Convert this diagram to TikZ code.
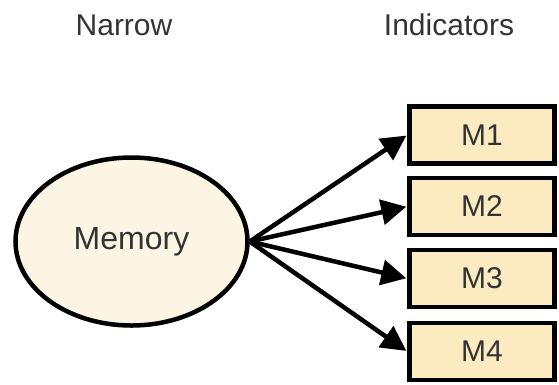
\documentclass[tikz,border=0pt]{standalone}
\usepackage{fontspec}
\setmainfont{Liberation Sans}
\usetikzlibrary{arrows.meta,shapes.geometric}
\definecolor{latentfill}{HTML}{FDF5E3}
\definecolor{indfill}{HTML}{FCEBC1}
\definecolor{txt}{HTML}{333333}
\tikzset{
  lbl/.style={font=\fontsize{30}{36}\selectfont, text=txt, inner sep=0pt},
  latent/.style={ellipse, draw=black, line width=4.5pt, fill=latentfill,
    minimum width=232pt, minimum height=168pt, inner sep=0pt,
    font=\fontsize{32}{36}\selectfont, text=txt},
  indbox/.style={rectangle, draw=black, line width=4.5pt, fill=indfill,
    minimum width=145pt, minimum height=57pt, inner sep=0pt,
    font=\fontsize{30}{36}\selectfont, text=txt},
  load/.style={line width=4.5pt, -{Triangle[length=25pt,width=25pt]}, shorten >=1pt}
}
\begin{document}
\begin{tikzpicture}[x=1pt,y=-1pt]
  \useasboundingbox (0,0) rectangle (559,384);
  % column headings
  \node[lbl] (hnarrow) at (124,25) {Narrow};
  \node[lbl] (hind) at (449,25) {Indicators};
  % latent variable
  \node[latent] (mem) at (131.5,241.5) {Memory};
  % indicator boxes
  \node[indbox] (m1) at (482,135) {M1};
  \node[indbox] (m2) at (482,206.5) {M2};
  \node[indbox] (m3) at (482,278.5) {M3};
  \node[indbox] (m4) at (482,351.5) {M4};
  % loadings
  \foreach \m in {m1,m2,m3,m4}
    \draw[load] (mem.east) -- (\m.west);
\end{tikzpicture}
\end{document}
